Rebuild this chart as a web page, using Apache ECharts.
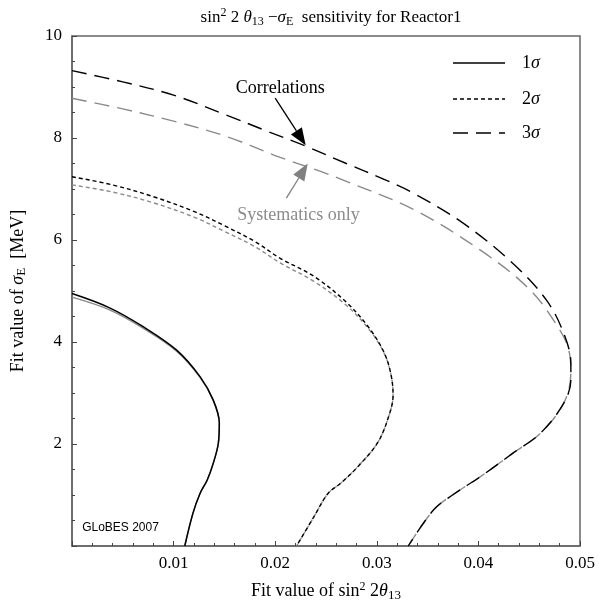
<!DOCTYPE html>
<html>
<head>
<meta charset="utf-8">
<script src="https://cdn.jsdelivr.net/npm/echarts@6/dist/echarts.min.js"></script>
<style>html,body{margin:0;padding:0;background:#fff}#c{width:599px;height:607px}</style>
</head>
<body>
<div id="c"></div>
<script>
// ---- data (x = fit sin^2 2theta13, y = fit sigma_E [MeV]) ----
var xTicks = [0.01, 0.02, 0.03, 0.04, 0.05];
var yTicks = [2, 4, 6, 8, 10];
var legendNames = ['1', '2', '3'];   // followed by italic sigma

var corr1 = [[0,4.95],[0.0037,4.67],[0.0070,4.30],[0.0103,3.84],[0.0126,3.32],[0.0139,2.86],[0.0145,2.41],[0.0144,2.01],[0.0139,1.62],[0.0133,1.29],[0.0126,1.03],[0.0119,0.64],[0.0111,0]];
var syst1 = [[0,4.88],[0.0037,4.63],[0.0070,4.27],[0.0103,3.82],[0.0126,3.31],[0.0139,2.86],[0.0145,2.41],[0.0144,2.01],[0.0139,1.62],[0.0133,1.29],[0.0126,1.03],[0.0119,0.64],[0.0111,0]];

var corr2 = [[0,7.24],[0.004,7.08],[0.008,6.85],[0.012,6.56],[0.0149,6.29],[0.018,5.97],[0.0205,5.64],[0.0238,5.29],[0.0270,4.78],[0.0293,4.26],[0.0307,3.80],[0.0314,3.36],[0.0316,2.95],[0.0312,2.56],[0.0301,2.03],[0.0282,1.57],[0.0265,1.24],[0.0252,1.03],[0.0238,0.57],[0.0221,0]];
var syst2 = [[0,7.08],[0.004,6.94],[0.008,6.73],[0.012,6.45],[0.0149,6.18],[0.018,5.87],[0.0205,5.55],[0.0238,5.19],[0.0270,4.72],[0.0293,4.23],[0.0307,3.79],[0.0314,3.36],[0.0316,2.95],[0.0312,2.56],[0.0301,2.03],[0.0282,1.57],[0.0265,1.24],[0.0252,1.03],[0.0238,0.57],[0.0221,0]];

var corr3 = [[0,9.32],[0.005,9.10],[0.010,8.84],[0.0152,8.45],[0.019,8.15],[0.023,7.84],[0.027,7.50],[0.0306,7.20],[0.0336,6.92],[0.0385,6.33],[0.0434,5.54],[0.0467,4.82],[0.0484,4.17],[0.0491,3.58],[0.0491,3.25],[0.0484,2.80],[0.0461,2.21],[0.0434,1.82],[0.0402,1.36],[0.0376,1.02],[0.0356,0.71],[0.0331,0]];
var syst3 = [[0,8.78],[0.005,8.57],[0.010,8.33],[0.0152,8.03],[0.0205,7.62],[0.0244,7.35],[0.0270,7.15],[0.0336,6.60],[0.0402,5.80],[0.0451,5.02],[0.0480,4.24],[0.0489,3.84],[0.0491,3.40],[0.0484,2.80],[0.0461,2.21],[0.0434,1.82],[0.0402,1.36],[0.0376,1.02],[0.0356,0.71],[0.0331,0]];

// annotations in data coordinates
var annCorr = {label: 'Correlations', text: [0.0205, 8.98], from: [0.0200, 8.78], to: [0.0230, 7.86]};
var annSyst = {label: 'Systematics only', text: [0.0223, 6.49], from: [0.0211, 6.82], to: [0.0232, 7.50]};

var SERIF = '"Liberation Serif", "DejaVu Serif", serif';
var chart = echarts.init(document.getElementById('c'), null, {renderer: 'canvas'});

var DASH2 = [4, 3], DASH3 = [15, 8];
var styles = [
  {type: 'solid', width: 1.5},
  {type: DASH2, width: 1.4},
  {type: DASH3, width: 1.4}
];
function mk(name, data, color, st, z) {
  return {name: name, type: 'line', data: data, smooth: 0.35, symbol: 'none', showSymbol: false,
    lineStyle: {color: color, type: st.type, width: st.width}, z: z, silent: true, animation: false};
}
function richFor(size) {
  return {
    sup: {fontFamily: SERIF, fontSize: Math.round(size*0.68), verticalAlign: 'top', padding: [0,0,9,0], color: '#000'},
    sub: {fontFamily: SERIF, fontSize: Math.round(size*0.7), verticalAlign: 'bottom', padding: [7,0,0,0], color: '#000'},
    it: {fontFamily: SERIF, fontSize: size, fontStyle: 'italic', color: '#000'}
  };
}

chart.setOption({
  animation: false,
  title: {
    text: 'sin{sup|2} 2 {it|θ}{sub|13} −{it|σ}{sub|E}  sensitivity for Reactor1',
    left: 326, top: 2, textAlign: 'center',
    textStyle: {fontFamily: SERIF, fontSize: 17, fontWeight: 'normal', color: '#000', rich: richFor(17)}
  },
  grid: {left: 72, top: 36, right: 19, bottom: 61, show: true, borderColor: '#666', borderWidth: 1.5, backgroundColor: 'transparent'},
  xAxis: {
    type: 'value', min: 0, max: 0.05, interval: 0.01,
    name: 'Fit value of sin{sup|2} 2{it|θ}{sub|13}', nameLocation: 'middle', nameGap: 35,
    nameTextStyle: {fontFamily: SERIF, fontSize: 18, color: '#000', rich: richFor(18)},
    axisLine: {show: true, lineStyle: {color: '#666', width: 1.5}},
    axisTick: {show: true, inside: true, length: 5, lineStyle: {color: '#444'}},
    minorTick: {show: true, splitNumber: 5, length: 3, lineStyle: {color: '#444'}},
    splitLine: {show: false}, minorSplitLine: {show: false},
    axisLabel: {fontFamily: SERIF, fontSize: 17, color: '#000', margin: 9,
      formatter: function (v) { return xTicks.indexOf(Math.round(v*1000)/1000) >= 0 ? v.toFixed(2) : ''; }}
  },
  yAxis: {
    type: 'value', min: 0, max: 10, interval: 2,
    name: 'Fit value of {it|σ}{sub|E}  [MeV]', nameLocation: 'middle', nameGap: 44,
    nameTextStyle: {fontFamily: SERIF, fontSize: 18, color: '#000', rich: richFor(18)},
    axisLine: {show: true, lineStyle: {color: '#666', width: 1.5}},
    axisTick: {show: true, inside: true, length: 5, lineStyle: {color: '#444'}},
    minorTick: {show: true, splitNumber: 4, length: 3, lineStyle: {color: '#444'}},
    splitLine: {show: false}, minorSplitLine: {show: false},
    axisLabel: {fontFamily: SERIF, fontSize: 17, color: '#000', margin: 10,
      formatter: function (v) { return yTicks.indexOf(v) >= 0 ? String(v) : ''; }}
  },
  series: [
    mk('syst1', syst1, '#8a8a8a', styles[0], 2),
    mk('syst2', syst2, '#8a8a8a', styles[1], 2),
    mk('syst3', syst3, '#8a8a8a', styles[2], 2),
    mk('1σ', corr1, '#000', styles[0], 3),
    mk('2σ', corr2, '#000', styles[1], 3),
    mk('3σ', corr3, '#000', styles[2], 3)
  ]
});

function arrow(a, color) {
  var p0 = chart.convertToPixel({gridIndex: 0}, a.from);
  var p1 = chart.convertToPixel({gridIndex: 0}, a.to);
  var dx = p1[0]-p0[0], dy = p1[1]-p0[1], L = Math.sqrt(dx*dx+dy*dy);
  var ux = dx/L, uy = dy/L, hl = 17, hw = 6.5;
  var bx = p1[0]-ux*hl, by = p1[1]-uy*hl;
  return [
    {type: 'line', shape: {x1: p0[0], y1: p0[1], x2: bx, y2: by}, style: {stroke: color, lineWidth: 1.3}, z: 10},
    {type: 'polygon', shape: {points: [[p1[0],p1[1]],[bx-uy*hw, by+ux*hw],[bx+uy*hw, by-ux*hw]]}, style: {fill: color}, z: 10}
  ];
}
function label(a, color) {
  var p = chart.convertToPixel({gridIndex: 0}, a.text);
  return {type: 'text', x: p[0], y: p[1], style: {text: a.label, fill: color, font: '18px ' + SERIF, align: 'center', verticalAlign: 'middle'}, z: 10};
}
// legend drawn as graphic (line sample + label)
var legendG = [];
var legendRows = [63, 99, 133];
for (var i = 0; i < legendNames.length; i++) {
  legendG.push({type: 'line', shape: {x1: 453, y1: legendRows[i], x2: 505, y2: legendRows[i]},
    style: {stroke: '#000', lineWidth: styles[i].width, lineDash: styles[i].type === 'solid' ? null : styles[i].type}, z: 10});
  legendG.push({type: 'text', x: 522, y: legendRows[i], z: 10,
    style: {text: legendNames[i] + '{it|σ}', fill: '#000', font: '18px ' + SERIF, verticalAlign: 'middle', align: 'left',
      rich: {it: {fontFamily: SERIF, fontSize: 18, fontStyle: 'italic', fill: '#000'}}}});
}
var gPt = chart.convertToPixel({gridIndex: 0}, [0.001, 0.35]);
var g = [].concat(arrow(annCorr, '#000'), arrow(annSyst, '#808080'), legendG,
  [label(annCorr, '#000'), label(annSyst, '#8c8c8c'),
   {type: 'text', x: gPt[0], y: gPt[1], style: {text: 'GLoBES 2007', fill: '#000', font: '12px "Liberation Sans", Arial, sans-serif', align: 'left', verticalAlign: 'middle'}, z: 10}]);
chart.setOption({graphic: g});
</script>
</body>
</html>
